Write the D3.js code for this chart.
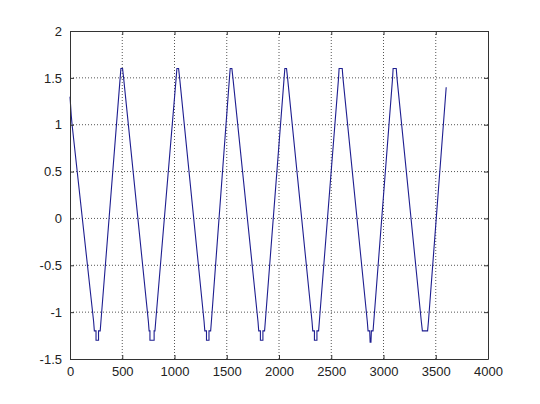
<!DOCTYPE html>
<html>
<head>
<meta charset="utf-8">
<script src="https://cdn.jsdelivr.net/npm/d3@7"></script>
<style>
  body { margin: 0; background: #fff; }
  text { font-family: 'Liberation Sans', Arial, sans-serif; font-size: 13px; fill: #222; }
</style>
</head>
<body>
<svg id="container" width="540" height="404"></svg>
<script>
// x ticks and y ticks as shown on the axes
const xTicks = [0, 500, 1000, 1500, 2000, 2500, 3000, 3500, 4000]
const yTicks = [-1.5, -1, -0.5, 0, 0.5, 1, 1.5, 2]

// signal vertices (sample index, value)
const sampleX = [
  0, 12, 20,
  226, 233, 249, 249, 273, 273, 289, 296,
  480, 487, 503, 513,
  750, 757, 765, 765, 805, 805, 813, 820,
  1016, 1023, 1039, 1049,
  1283, 1290, 1306, 1306, 1330, 1330, 1346, 1353,
  1526, 1533, 1549, 1559,
  1799, 1806, 1822, 1822, 1846, 1846, 1862, 1869,
  2049, 2056, 2072, 2082,
  2316, 2323, 2339, 2339, 2363, 2363, 2379, 2386,
  2570, 2575, 2605, 2612,
  2845, 2852, 2868, 2872, 2880, 2884, 2900, 2907,
  3087, 3092, 3122, 3129,
  3362, 3372, 3422, 3430,
  3600
]
const sampleY = [
  1.3, 1.1, 1.0,
  -1.1, -1.2, -1.2, -1.3, -1.3, -1.2, -1.2, -1.1,
  1.5, 1.6, 1.6, 1.5,
  -1.1, -1.2, -1.2, -1.3, -1.3, -1.2, -1.2, -1.1,
  1.5, 1.6, 1.6, 1.5,
  -1.1, -1.2, -1.2, -1.3, -1.3, -1.2, -1.2, -1.1,
  1.5, 1.6, 1.6, 1.5,
  -1.1, -1.2, -1.2, -1.3, -1.3, -1.2, -1.2, -1.1,
  1.5, 1.6, 1.6, 1.5,
  -1.1, -1.2, -1.2, -1.3, -1.3, -1.2, -1.2, -1.1,
  1.5, 1.6, 1.6, 1.5,
  -1.1, -1.2, -1.2, -1.32, -1.32, -1.2, -1.2, -1.1,
  1.5, 1.6, 1.6, 1.5,
  -1.1, -1.2, -1.2, -1.1,
  1.4
]

const svg = d3.select('#container')
const mLeft = 70, mRight = 488, mTop = 31, mBottom = 359

const x = d3.scaleLinear().domain([0, 4000]).range([mLeft, mRight])
const y = d3.scaleLinear().domain([-1.5, 2]).range([mBottom, mTop])

// dotted grid
svg.append('g')
  .selectAll('line')
  .data(xTicks.slice(1, -1))
  .enter()
  .append('line')
  .attr('x1', (d) => x(d)).attr('x2', (d) => x(d))
  .attr('y1', mTop).attr('y2', mBottom)
  .attr('stroke', '#555').attr('stroke-dasharray', '1,2')

svg.append('g')
  .selectAll('line')
  .data(yTicks.slice(1, -1))
  .enter()
  .append('line')
  .attr('y1', (d) => y(d)).attr('y2', (d) => y(d))
  .attr('x1', mLeft).attr('x2', mRight)
  .attr('stroke', '#555').attr('stroke-dasharray', '1,2')

// the signal
const pts = sampleX.map((d, i) => [d, sampleY[i]])
svg.append('path')
  .datum(pts)
  .attr('fill', 'none')
  .attr('stroke', '#1e1e90')
  .attr('stroke-width', 1.1)
  .attr('d', d3.line().x((d) => x(d[0])).y((d) => y(d[1])))

// axes, matlab style: ticks inward on all sides
const axB = svg.append('g').attr('transform', `translate(0,${mBottom})`)
  .call(d3.axisBottom(x).tickValues(xTicks).tickSizeInner(-4).tickSizeOuter(0).tickPadding(8)
    .tickFormat(d3.format('d')))
const axT = svg.append('g').attr('transform', `translate(0,${mTop})`)
  .call(d3.axisTop(x).tickValues(xTicks).tickSizeInner(-4).tickSizeOuter(0).tickFormat(''))
const axL = svg.append('g').attr('transform', `translate(${mLeft},0)`)
  .call(d3.axisLeft(y).tickValues(yTicks).tickSizeInner(-4).tickSizeOuter(0).tickPadding(8)
    .tickFormat((d) => String(d)))
const axR = svg.append('g').attr('transform', `translate(${mRight},0)`)
  .call(d3.axisRight(y).tickValues(yTicks).tickSizeInner(-4).tickSizeOuter(0).tickFormat(''))

;[axB, axT, axL, axR].forEach((a) => {
  a.select('.domain').attr('stroke', '#333')
  a.selectAll('.tick line').attr('stroke', '#333')
  a.selectAll('text').attr('font-size', 13).attr('fill', '#222')
    .attr('font-family', "'Liberation Sans', Arial, sans-serif")
})
</script>
</body>
</html>
